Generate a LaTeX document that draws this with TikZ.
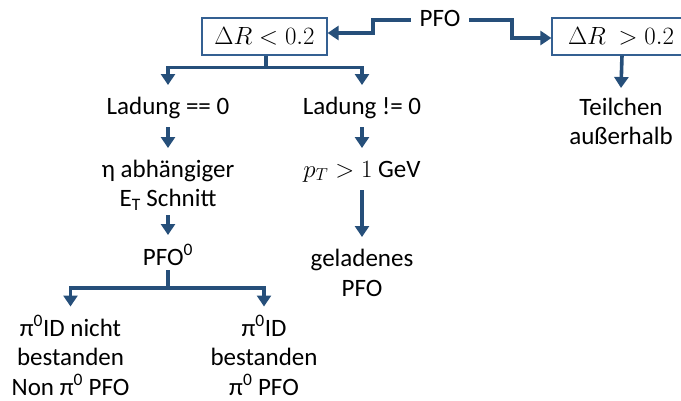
\documentclass[tikz,border=0pt]{standalone}
\usepackage{fontspec}
\setmainfont{Carlito}
\usetikzlibrary{arrows.meta}
\definecolor{flow}{RGB}{38,79,122}
\definecolor{frame}{RGB}{52,96,146}
\begin{document}
\begin{tikzpicture}[x=1pt,y=-1pt,
  lbl/.style={font=\fontsize{25}{29.5}\selectfont, align=center, inner sep=0pt, anchor=base},
  conn/.style={draw=flow, line width=3.6pt},
  arr/.style={conn, -{Triangle[width=14pt,length=11pt]}},
  cut/.style={draw=frame, line width=1.2pt, fill=white, inner sep=0pt,
    minimum height=37pt, font=\fontsize{25}{29.5}\selectfont}]
\useasboundingbox (0,0) rectangle (681,400);

% selection boxes
\node[cut, minimum width=125pt] (lbox) at (264.5,36.5) {$\Delta R < 0.2$};
\node[cut, minimum width=138pt] (rbox) at (621,36.5) {$\Delta R\ > 0.2$};

% texts, placed by the baseline of their last line
\node[lbl] (pfo)   at (440,26.5)  {PFO};
\node[lbl] (teil)  at (621,144.5) {Teilchen\\außerhalb};
\node[lbl] (lad0)  at (168,114)   {Ladung == 0};
\node[lbl] (ladn)  at (362,114)   {Ladung != 0};
\node[lbl] (eta)   at (168,206.5) {η abhängiger\\E\textsubscript{T} Schnitt};
\node[lbl] (pt)    at (362,177)   {$p_T > 1$ GeV};
\node[lbl] (gel)   at (362,296)   {geladenes\\PFO};
\node[lbl] (pfo0)  at (168,265)   {PFO\textsuperscript{0}};
\node[lbl] (fail)  at (70.5,395)  {π\textsuperscript{0}ID nicht\\bestanden\\Non π\textsuperscript{0} PFO};
\node[lbl] (pass)  at (264,395)   {π\textsuperscript{0}ID\\bestanden\\π\textsuperscript{0} PFO};

% PFO split by Delta R
\draw[arr] ([xshift=-8.5pt,yshift=6.5pt]pfo.base west) -- ++(-38,0) |- ([yshift=3.5pt]lbox.east);
\draw[arr] ([xshift=8.5pt,yshift=6.5pt]pfo.base east) -- ++(43,0) |- ([yshift=-1.5pt]rbox.west);
\draw[arr] ([xshift=1pt]rbox.south) -- ([yshift=56.5pt]teil.base);

% inside the cone: charge split
\draw[conn] ([xshift=1.5pt]lbox.south) -- ++(0,12) coordinate (s1);
\draw[arr] (s1) -| ([yshift=29pt]lad0.base);
\draw[arr] (s1) -| ([yshift=29pt]ladn.base);

% neutral branch
\draw[arr] ([yshift=-13pt]lad0.base) -- ([yshift=58.5pt]eta.base);
\draw[arr] ([yshift=-8.5pt]eta.base) -- ([yshift=30pt]pfo0.base);
\draw[conn] ([yshift=-5pt]pfo0.base) -- ++(0,18) coordinate (s2);
\draw[arr] (s2) -| ([yshift=88.5pt]fail.base);
\draw[arr] (s2) -| ([yshift=88.5pt]pass.base);

% charged branch
\draw[arr] ([yshift=-13pt]ladn.base) -- ([yshift=29pt]pt.base);
\draw[arr] ([yshift=-13pt]pt.base) -- ([yshift=59pt]gel.base);
\end{tikzpicture}
\end{document}
